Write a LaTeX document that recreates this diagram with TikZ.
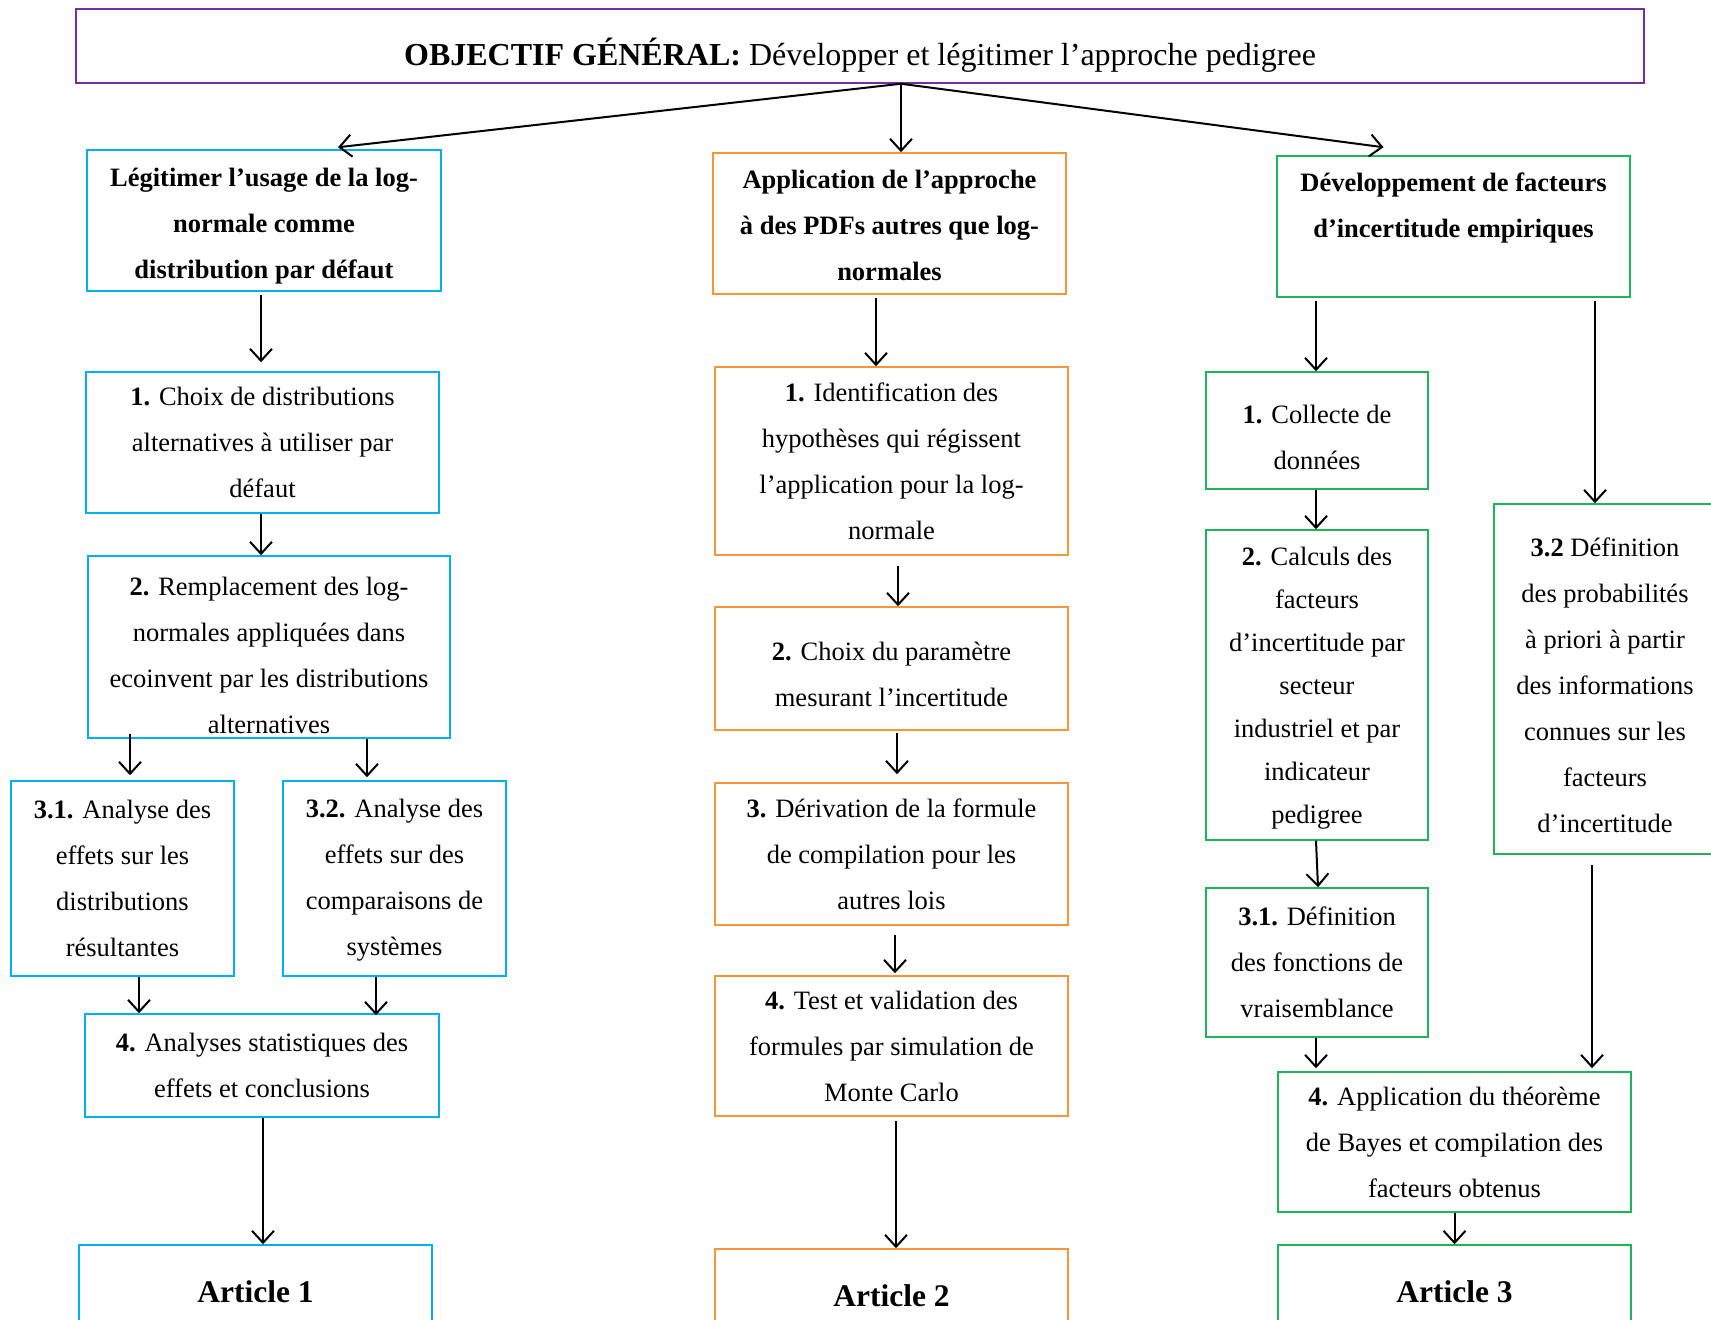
\documentclass[tikz,border=0pt]{standalone}
\usepackage{fontspec}
\setmainfont{Liberation Serif}
\usetikzlibrary{arrows.meta,calc}
\definecolor{cblue}{RGB}{0,176,240}
\definecolor{corange}{RGB}{245,150,55}
\definecolor{cgreen}{RGB}{30,180,90}
\definecolor{cpurple}{RGB}{112,48,160}
\tikzset{
  box/.style={draw, line width=1.5pt, inner sep=0pt, align=center,
    font=\fontsize{26.5}{46}\selectfont},
  tx/.style={inner sep=0pt, align=center, font=\fontsize{26.5}{46}\selectfont},
  bbox/.style={box, draw=cblue},
  obox/.style={box, draw=corange},
  gbox/.style={box, draw=cgreen},
  headfont/.style={font=\fontsize{26.5}{46}\bfseries},
  artfont/.style={font=\fontsize{31.5}{36}\bfseries},
  arr/.style={line width=2pt, -{Straight Barb[length=12pt,width=22pt]}},
}
\begin{document}
\begin{tikzpicture}[x=1pt,y=-1pt]
\useasboundingbox (0,0) rectangle (1711,1320);
% top
\node[box, draw=cpurple, minimum width=1568, minimum height=74] (top) at (860,46) {};
\node[tx, font=\fontsize{32}{36}\selectfont] (title) at ([yshift=-9]top.center)
  {\textbf{OBJECTIF GÉNÉRAL:} Développer et légitimer l’approche pedigree};
\coordinate (apex) at ([xshift=41]top.south);

% left column
\node[bbox, minimum width=354, minimum height=141] (L0) at (264,220.5) {};
\node[tx, headfont] (L0t) at ([yshift=-5.5]L0.center)
  {Légitimer l’usage de la log-\\normale comme\\distribution par défaut};
\node[bbox, minimum width=353, minimum height=141] (L1) at (262.5,442.5)
  {\textbf{1.} Choix de distributions\\alternatives à utiliser par\\défaut};
\node[bbox, minimum width=362, minimum height=182] (L2) at (269,647) {};
\node[tx] (L2t) at ([yshift=-8]L2.center)
  {\textbf{2.} Remplacement des log-\\normales appliquées dans\\ecoinvent par les distributions\\alternatives};
\node[bbox, minimum width=223, minimum height=195] (L31) at (122.5,878.5)
  {\textbf{3.1.} Analyse des\\effets sur les\\distributions\\résultantes};
\node[bbox, minimum width=223, minimum height=195] (L32) at (394.5,878.5) {};
\node[tx] (L32t) at ([yshift=-2]L32.center)
  {\textbf{3.2.} Analyse des\\effets sur des\\comparaisons de\\systèmes};
\node[bbox, minimum width=354, minimum height=103] (L4) at (262,1065.5)
  {\textbf{4.} Analyses statistiques des\\effets et conclusions};
\node[bbox, minimum width=353, minimum height=94, artfont] (A1) at (255.5,1292)
  {Article 1};

% middle column
\node[obox, minimum width=353, minimum height=141] (M0) at (889.5,223.5) {};
\node[tx, headfont] (M0t) at ([yshift=-2]M0.center)
  {Application de l’approche\\à des PDFs autres que log-\\normales};
\node[obox, minimum width=353, minimum height=188] (M1) at (891.5,461)
  {\textbf{1.} Identification des\\hypothèses qui régissent\\l’application pour la log-\\normale};
\node[obox, minimum width=353, minimum height=123] (M2) at (891.5,668.5) {};
\node[tx] (M2t) at ([yshift=-5.5]M2.center)
  {\textbf{2.} Choix du paramètre\\mesurant l’incertitude};
\node[obox, minimum width=353, minimum height=142] (M3) at (891.5,854)
  {\textbf{3.} Dérivation de la formule\\de compilation pour les\\autres lois};
\node[obox, minimum width=353, minimum height=140] (M4) at (891.5,1046)
  {\textbf{4.} Test et validation des\\formules par simulation de\\Monte Carlo};
\node[obox, minimum width=353, minimum height=94, artfont] (A2) at (891.5,1296)
  {Article 2};

% right column
\node[gbox, minimum width=353, minimum height=141] (R0) at (1453.5,226.5) {};
\node[tx, headfont] (R0t) at ([yshift=-9]R0.center)
  {Développement de facteurs\\d’incertitude empiriques\\\strut};
\node[gbox, minimum width=222, minimum height=117] (R1) at (1317,430.5) {};
\node[tx] (R1t) at ([yshift=-6.5]R1.center)
  {\textbf{1.} Collecte de\\données};
\node[gbox, minimum width=222, minimum height=310] (R2) at (1317,685) {};
\node[tx, font=\fontsize{26.5}{43}\selectfont] (R2t) at ([yshift=-3]R2.center)
  {\textbf{2.} Calculs des\\facteurs\\d’incertitude par\\secteur\\industriel et par\\indicateur\\pedigree};
\node[gbox, minimum width=222, minimum height=149] (R31) at (1317,962.5)
  {\textbf{3.1.} Définition\\des fonctions de\\vraisemblance};
\node[gbox, minimum width=222, minimum height=350] (R32) at (1605,679) {};
\node[tx] (R32t) at ([yshift=-6]R32.center)
  {\textbf{3.2} Définition\\des probabilités\\à priori à partir\\des informations\\connues sur les\\facteurs\\d’incertitude};
\node[gbox, minimum width=353, minimum height=140] (R4) at (1454.5,1142)
  {\textbf{4.} Application du théorème\\de Bayes et compilation des\\facteurs obtenus};
\node[gbox, minimum width=353, minimum height=94, artfont] (A3) at (1454.5,1292)
  {Article 3};

% connectors from the top
\draw[arr] (apex) -- ([xshift=74,yshift=2]L0.north);
\draw[arr] (apex) -- ([xshift=11.5]M0.north);
\draw[arr] (apex) -- ([xshift=-70,yshift=8]R0.north);

% left connectors
\draw[arr] ([xshift=-3,yshift=-3]L0.south) -- ([xshift=-1.5,yshift=9]L1.north);
\draw[arr] ([xshift=-1.5]L1.south) -- ([xshift=-8]L2.north);
\draw[arr] ([xshift=7.5,yshift=5]L31.north |- L2.south) -- ([xshift=7.5,yshift=5]L31.north);
\draw[arr] ([xshift=-27.5]L32.north |- L2.south) -- ([xshift=-27.5,yshift=3]L32.north);
\draw[arr] ([xshift=16.5]L31.south) -- ([xshift=16.5]L31.south |- L4.north);
\draw[arr] ([xshift=-18.5]L32.south) -- ([xshift=-18.5,yshift=-2]L32.south |- L4.north);
\draw[arr] ([xshift=1]L4.south) -- ([xshift=1]L4.south |- A1.north);

% middle connectors
\draw[arr] ([xshift=-13.5,yshift=-3]M0.south) -- ([xshift=-15.5]M1.north);
\draw[arr] ([xshift=6.5,yshift=-10]M1.south) -- ([xshift=6.5]M2.north);
\draw[arr] ([xshift=5.5,yshift=-2]M2.south) -- ([xshift=5.5,yshift=8]M3.north);
\draw[arr] ([xshift=3.5,yshift=-9]M3.south) -- ([xshift=3.5,yshift=2]M4.north);
\draw[arr] ([xshift=4.5,yshift=-4]M4.south) -- ([xshift=4.5]M4.south |- A2.north);

% right connectors
\draw[arr] ([xshift=-1]R1.north |- R0.south) ++(0,3) -- ([xshift=-1]R1.north);
\draw[arr] ([xshift=-10]R32.north |- R0.south) ++(0,3) -- ([xshift=-10]R32.north);
\draw[arr] ([xshift=-1]R1.south) -- ([xshift=-1]R2.north);
\draw[arr] ([xshift=-1]R2.south) -- ([xshift=1]R31.north);
\draw[arr] ([xshift=-1]R31.south) -- ([xshift=-1,yshift=3]R31.south |- R4.north);
\draw[arr] ([xshift=-13,yshift=-10]R32.south) -- ([xshift=-13,yshift=3]R32.south |- R4.north);
\draw[arr] (R4.south) -- (A3.north);
\end{tikzpicture}
\end{document}
